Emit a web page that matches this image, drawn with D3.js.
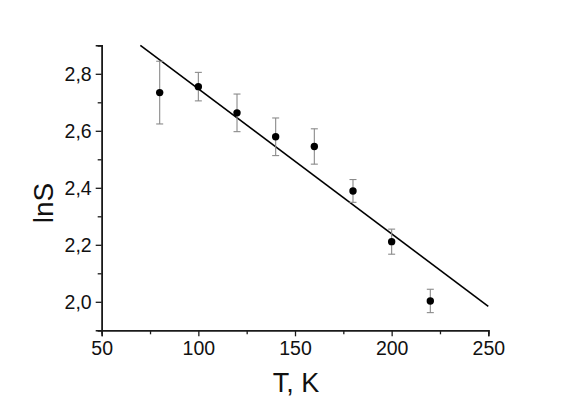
<!DOCTYPE html>
<html><head><meta charset="utf-8">
<script src="https://cdn.jsdelivr.net/npm/d3@7"></script>
<style>body{margin:0;background:#fff}svg{display:block}text{font-family:"Liberation Sans",Arial,sans-serif;fill:#111}</style>
</head><body><svg id="c" width="568" height="397"></svg>
<script>
const temps = [80, 100, 120, 140, 160, 180, 200, 220];
const lnS = [2.734, 2.755, 2.663, 2.579, 2.545, 2.389, 2.211, 2.003];
const errs = [0.110, 0.050, 0.066, 0.066, 0.062, 0.040, 0.044, 0.041];
const fitT = [70, 250];
const fitLnS = [2.900, 1.984];
const xMajor = [50, 100, 150, 200, 250];
const xMinor = [75, 125, 175, 225];
const yMajor = [2.0, 2.2, 2.4, 2.6, 2.8];
const yMinor = [1.9, 2.1, 2.3, 2.5, 2.7, 2.9];

const svg = d3.select("#c");
const x = d3.scaleLinear().domain([50, 250]).range([101.7, 488.3]);
const y = d3.scaleLinear().domain([1.9, 2.9]).range([330.3, 45.3]);
const fmt = d => d.toFixed(1).replace(".", ",");

const axCol = "#1a1a1a";
const gxm = svg.append("g").attr("transform", "translate(0,330.3)")
  .call(d3.axisBottom(x).tickValues(xMinor).tickSize(4).tickFormat(""));
const gym = svg.append("g").attr("transform", "translate(101.7,0)")
  .call(d3.axisLeft(y).tickValues(yMinor).tickSize(4).tickFormat(""));
const gx = svg.append("g").attr("transform", "translate(0,330.3)")
  .call(d3.axisBottom(x).tickValues(xMajor).tickSize(6).tickPadding(5).tickFormat(d3.format("d")));
const gy = svg.append("g").attr("transform", "translate(101.7,0)")
  .call(d3.axisLeft(y).tickValues(yMajor).tickSize(6).tickPadding(4).tickFormat(fmt));
[gxm, gym, gx, gy].forEach(g => {
  g.attr("font-size", 19.5).attr("font-family", "'Liberation Sans', Arial, sans-serif");
  g.selectAll("path.domain").attr("stroke", axCol).attr("stroke-width", 1.5);
  g.selectAll("line").attr("stroke", axCol).attr("stroke-width", 1.3);
  g.selectAll("text").attr("fill", "#111");
});
gx.selectAll("text").attr("dy", "0.72em");

svg.append("line")
  .attr("x1", x(fitT[0])).attr("y1", y(fitLnS[0]))
  .attr("x2", x(fitT[1])).attr("y2", y(fitLnS[1]))
  .attr("stroke", "#000").attr("stroke-width", 1.6);

const eb = svg.append("g").attr("stroke", "#8a8a8a").attr("stroke-width", 1.1);
temps.forEach((t, i) => {
  const cx = x(t), top = y(lnS[i] + errs[i]), bot = y(lnS[i] - errs[i]);
  eb.append("line").attr("x1", cx).attr("x2", cx).attr("y1", top).attr("y2", bot);
  eb.append("line").attr("x1", cx - 3.5).attr("x2", cx + 3.5).attr("y1", top).attr("y2", top);
  eb.append("line").attr("x1", cx - 3.5).attr("x2", cx + 3.5).attr("y1", bot).attr("y2", bot);
});

svg.append("g").selectAll("circle").data(temps).join("circle")
  .attr("cx", d => x(d)).attr("cy", (d, i) => y(lnS[i])).attr("r", 3.7).attr("fill", "#000");

svg.append("text").attr("x", 296).attr("y", 392).attr("text-anchor", "middle")
  .attr("font-size", 27).text("T, K");
svg.append("text").attr("transform", "translate(53,203) rotate(-90)").attr("text-anchor", "middle")
  .attr("font-size", 28).text("lnS");
</script></body></html>
